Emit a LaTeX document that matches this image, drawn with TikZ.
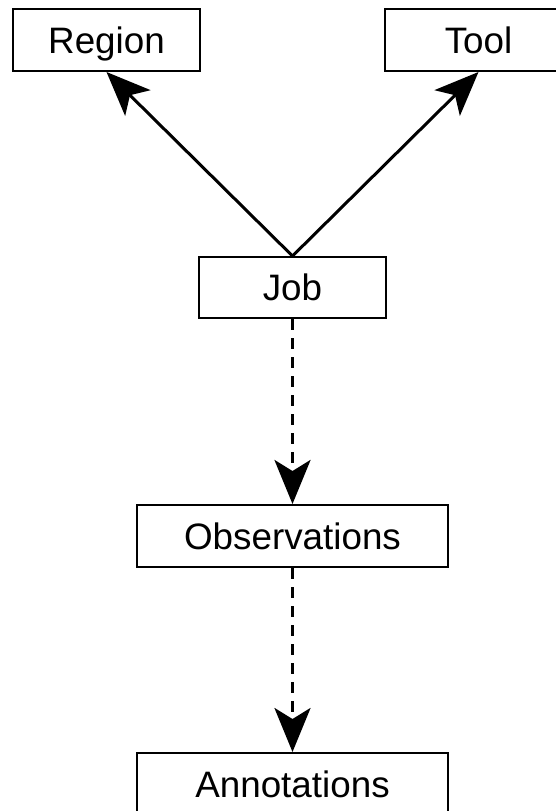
\documentclass[tikz,border=0pt]{standalone}
\usepackage{fontspec}
\setmainfont{Liberation Sans}
\usetikzlibrary{arrows.meta}
\begin{document}
\begin{tikzpicture}[x=1pt,y=1pt,
  entity/.style={draw=black, line width=2pt, fill=white, minimum height=62pt,
    inner sep=0pt, text height=26pt, text depth=0pt,
    font=\fontsize{36.8}{44}\selectfont},
  small/.style={entity, minimum width=187pt},
  wide/.style={entity, minimum width=311pt},
  link/.style={line width=3pt, -{Stealth[length=44pt, width=36pt, inset=11pt]}},
  dep/.style={link, line width=3.4pt, dash pattern=on 11pt off 8pt}]
\useasboundingbox (0,0) rectangle (556,-811);
\node[small] (region) at (106.5,-40) {Region};
\node[small] (tool) at (478.5,-40) {Tool};
\node[small, minimum height=61pt] (job) at (292.5,-287.5) {Job};
\node[wide] (obs) at (292.5,-536) {Observations};
\node[wide] (ann) at (292.5,-784) {Annotations};
\draw[link] (job.north) -- (region.south);
\draw[link] (job.north) -- (tool.south);
\draw[dep] (job.south) -- (obs.north);
\draw[dep] (obs.south) -- (ann.north);
\end{tikzpicture}
\end{document}
